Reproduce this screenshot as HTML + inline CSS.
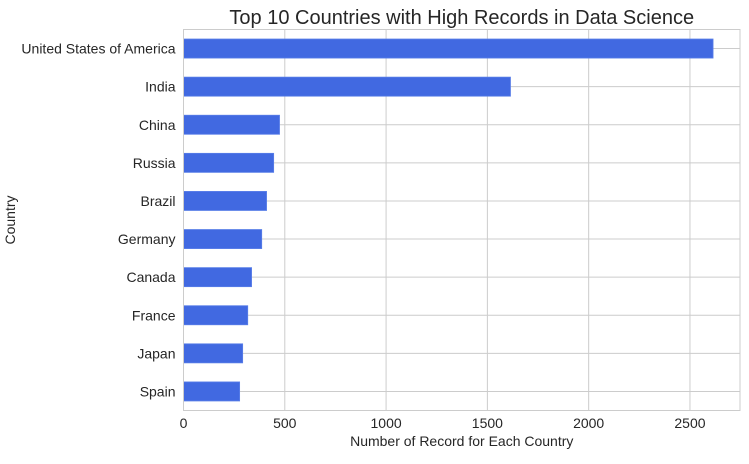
<!DOCTYPE html>
<html><head><meta charset="utf-8"><style>
body{margin:0;background:#fff;}
svg{display:block;font-family:"Liberation Sans",Arial,sans-serif;}
</style></head><body>
<svg id="chart" width="749" height="464"></svg>
<script>
const categories=["United States of America","India","China","Russia","Brazil","Germany","Canada","France","Japan","Spain"];
const values=[2614,1614,474,445,410,386,336,317,292,277];
const xTicks=[0,500,1000,1500,2000,2500];
const title="Top 10 Countries with High Records in Data Science";
const xLabel="Number of Record for Each Country";
const yLabel="Country";
(function(){
const svg=document.getElementById('chart');
const NS='http://www.w3.org/2000/svg';
const L=183.5,R=740,T=29.5,B=410.5,xMax=2747;
const x=v=>L+v/xMax*(R-L);
const step=(B-T)/categories.length;
const yc=i=>T+step*(i+0.5);
function mk(t,a,txt){const e=document.createElementNS(NS,t);for(const k in a)e.setAttribute(k,a[k]);if(txt!==undefined)e.textContent=txt;svg.appendChild(e);return e;}
let e;
e=mk('rect',{x:L,y:T,width:R-L,height:B-T,fill:'#fff'});


xTicks.forEach(v=>{
 e=mk('line',{x1:x(v),x2:x(v),y1:T,y2:B,stroke:'#cccccc','stroke-width':1});
 
 
 e=mk('text',{x:x(v),y:428,'font-size':14,'text-anchor':'middle',fill:'#262626'},String(v));
 
 
});
categories.forEach((c,i)=>{
 e=mk('line',{x1:L,x2:R,y1:yc(i),y2:yc(i),stroke:'#cccccc','stroke-width':1});
 
 
});
categories.forEach((c,i)=>{
 const h=step*0.5;
 e=mk('rect',{x:L,y:yc(i)-h/2,width:x(values[i])-L,height:h,fill:'#4169e1',stroke:'#5a7fe8','stroke-width':0.8});
 
 
 e=mk('text',{x:L-8,y:yc(i)+5,'font-size':14,'text-anchor':'end',fill:'#262626'},c);
 
 
});
e=mk('rect',{x:L,y:T,width:R-L,height:B-T,fill:'none',stroke:'#cccccc','stroke-width':1});


e=mk('text',{x:(L+R)/2,y:24,'font-size':20,'text-anchor':'middle',fill:'#262626'},title);


e=mk('text',{x:(L+R)/2,y:446,'font-size':14,'text-anchor':'middle',fill:'#262626'},xLabel);


e=mk('text',{x:15,y:(T+B)/2,'font-size':14,'text-anchor':'middle',fill:'#262626',transform:'rotate(-90 15 '+((T+B)/2)+')'},yLabel);


})();
</script>
</body></html>
